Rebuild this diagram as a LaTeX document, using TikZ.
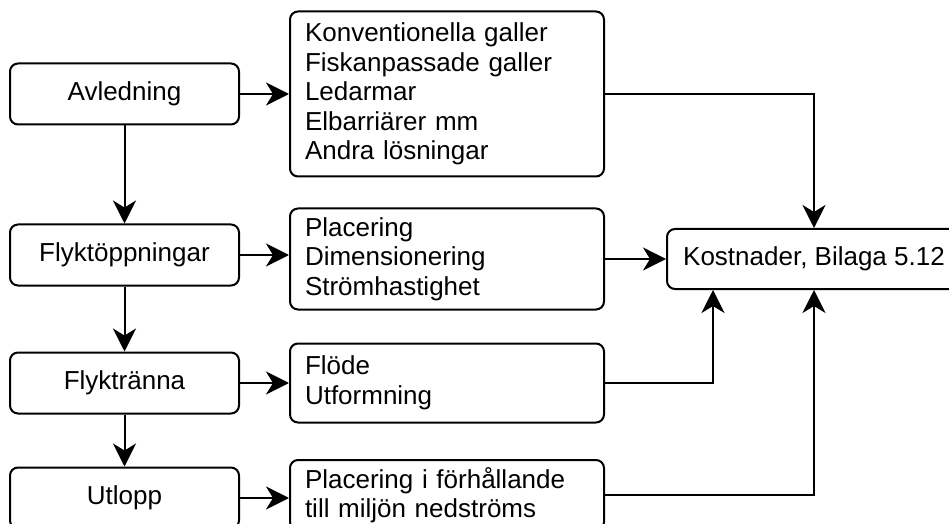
\documentclass[tikz,border=0pt]{standalone}
\usepackage{fontspec}
\setmainfont{Liberation Sans}
\usetikzlibrary{arrows.meta, positioning, calc}

\begin{document}
\begin{tikzpicture}[
  font=\fontsize{13}{14.75}\selectfont,
  stage/.style={rectangle, rounded corners=4pt, minimum width=114.5pt, minimum height=30.5pt,
    text centered, draw=black, line width=1pt, inner sep=2pt},
  detail/.style={rectangle, rounded corners=4pt, minimum width=157pt,
    text width=142pt, align=left, inner xsep=7.5pt, inner ysep=2pt,
    draw=black, line width=1pt},
  cost/.style={rectangle, rounded corners=4pt, minimum width=147pt, minimum height=30pt,
    text centered, draw=black, line width=1pt},
  arrow/.style={-{Stealth[length=11.5pt, width=11.5pt, inset=3.5pt]}, line width=1pt}
]

\useasboundingbox (0,0) rectangle (474.5pt,-262pt);

\node (avl) [stage] at (62.25pt,-47pt) {Avledning};
\node (flo) [stage, below=49pt of avl] {Flyktöppningar};
\node (fra) [stage, below=32.5pt of flo] {Flyktränna};
\node (utl) [stage, below=26pt of fra] {Utlopp};

\node (galler) [detail, minimum height=82.5pt, right=24.5pt of avl] {Konventionella galler\\Fiskanpassade galler\\Ledarmar\\Elbarriärer mm\\Andra lösningar};
\node (plac) [detail, minimum height=50.5pt, right=24.5pt of flo, yshift=-2pt] {Placering\\Dimensionering\\Strömhastighet};
\node (flode) [detail, minimum height=39.5pt, right=24.5pt of fra] {Flöde\\Utformning};
\node (miljo) [detail, minimum height=35pt, right=24.5pt of utl, yshift=1.5pt] {Placering i förhållande\\till miljön nedströms};

\node (kost) [cost, right=30.5pt of plac] {Kostnader, Bilaga 5.12};

\draw [arrow] (avl) -- (flo);
\draw [arrow] (flo) -- (fra);
\draw [arrow] (fra) -- (utl);

\draw [arrow] (avl.east) -- (avl.east -| galler.west);
\draw [arrow] (flo.east) -- (flo.east -| plac.west);
\draw [arrow] (fra.east) -- (fra.east -| flode.west);
\draw [arrow] (utl.east) -- (utl.east -| miljo.west);

\draw [arrow] (galler.east) -| (kost.north);
\draw [arrow] (plac.east) -- (plac.east -| kost.west);
\draw [arrow] (flode.east) -| ($(kost.south west)+(23.5pt,0)$);
\draw [arrow] (miljo.east) -| (kost.south);

\end{tikzpicture}
\end{document}
